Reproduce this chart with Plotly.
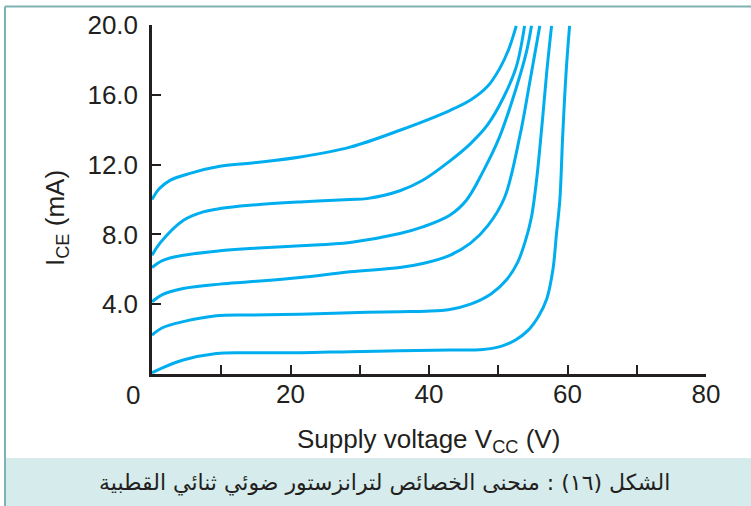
import plotly.graph_objects as go

# Supply voltage V_CC (V) and collector current I_CE (mA) for each curve
v1 = [0, 1, 2.6, 5.5, 9.8, 14.1, 21.4, 28.6, 35.8, 43, 46, 48.5, 50.2, 51.5, 52.6]
i1 = [10.0, 10.6, 11.1, 11.5, 11.9, 12.08, 12.44, 13.0, 13.97, 15.1, 15.7, 16.5, 17.5, 18.6, 19.95]

v2 = [0, 1.15, 4.5, 7.4, 9.8, 14.1, 21.4, 28.6, 31, 35.8, 39.1, 43, 46, 48.5, 50.7, 52.6, 53.8]
i2 = [6.8, 7.5, 8.8, 9.29, 9.48, 9.67, 9.86, 10.0, 10.05, 10.5, 11.1, 12.2, 13.2, 14.3, 15.8, 17.6, 19.95]

v3 = [0, 1.5, 4.5, 9.8, 14.1, 21.4, 28.6, 35.8, 39.1, 43, 45.4, 47.8, 50.2, 52.6, 54.1, 54.8]
i3 = [6.1, 6.5, 6.8, 7.06, 7.19, 7.35, 7.54, 8.05, 8.43, 9.1, 9.96, 11.6, 13.6, 16.4, 18.5, 19.95]

v4 = [0, 1.5, 4.5, 9.8, 14.1, 21.4, 28.6, 35.8, 39.1, 43, 46, 48.5, 50.9, 53.1, 54.5, 56]
i4 = [4.14, 4.55, 4.9, 5.15, 5.28, 5.53, 5.86, 6.1, 6.33, 6.8, 7.5, 8.5, 10.1, 13.6, 16.6, 19.95]

v5 = [0, 1.5, 4.5, 9.3, 14.1, 21.4, 28.6, 35.8, 39.6, 43, 46, 49, 51.2, 52.8, 53.9, 54.8, 55.5, 56.3, 57, 57.7]
i5 = [2.23, 2.65, 3.0, 3.34, 3.38, 3.43, 3.51, 3.57, 3.6, 3.7, 4.0, 4.6, 5.4, 6.4, 7.6, 9.0, 11.0, 14.2, 17.3, 19.95]

v6 = [0, 1.5, 4.5, 9.3, 14.1, 21.4, 28.6, 35.8, 43, 47.8, 50.5, 52.5, 54.3, 55.8, 57, 57.9, 58.4, 58.9, 59.3, 59.8, 60.3]
i6 = [0.07, 0.35, 0.8, 1.18, 1.22, 1.22, 1.28, 1.33, 1.37, 1.41, 1.6, 1.95, 2.5, 3.3, 4.3, 6.0, 8.0, 10.0, 13.6, 17.3, 19.95]

curves = [(v1, i1), (v2, i2), (v3, i3), (v4, i4), (v5, i5), (v6, i6)]

x_ticks = [0, 10, 20, 30, 40, 50, 60, 70, 80]
x_ticktext = ["", "", "20", "", "40", "", "60", "", "80"]
y_ticks = [4, 8, 12, 16, 20]
y_ticktext = ["4.0", "8.0", "12.0", "16.0", "20.0"]

x_title = "Supply voltage V<sub>CC</sub> (V)"
y_title = "I<sub>CE</sub> (mA)"
caption = "الشكل (١٦) : منحنى الخصائص لترانزستور ضوئي ثنائي القطبية"

LINE = "#00aeef"
AX = "#231f20"
FONT = "Liberation Sans, Arial, sans-serif"
FS = 26

fig = go.Figure()
for v, i in curves:
    fig.add_trace(go.Scatter(x=v, y=i, mode="lines",
                             line=dict(color=LINE, width=3, shape="spline", smoothing=1.0),
                             hoverinfo="skip", showlegend=False))

W, H = 751, 506
L, R, T, B = 152, 45, 25, 132
pw, ph = W - L - R, H - T - B

def px(xp):
    return (xp - L) / pw

def py(yp):
    return (H - B - yp) / ph

fig.update_layout(
    width=W, height=H,
    margin=dict(l=L, r=R, t=T, b=B, pad=0),
    paper_bgcolor="white", plot_bgcolor="white",
    font=dict(family=FONT, size=FS, color=AX),
    showlegend=False,
    xaxis=dict(range=[0, 80], tickvals=x_ticks, ticktext=x_ticktext,
               ticks="inside", ticklen=9, tickwidth=1.5, tickcolor=AX,
               showline=True, linecolor=AX, linewidth=2.5, showgrid=False,
               zeroline=False, ticklabelstandoff=-5, automargin=False,
               tickfont=dict(size=FS, family=FONT, color=AX)),
    yaxis=dict(range=[0, 20], tickvals=y_ticks, ticktext=y_ticktext,
               ticks="inside", ticklen=9, tickwidth=1.5, tickcolor=AX,
               showline=True, linecolor=AX, linewidth=2.5, showgrid=False,
               zeroline=False, ticklabelstandoff=6, automargin=False,
               tickfont=dict(size=FS, family=FONT, color=AX)),
)

shapes = [
    # caption band
    dict(type="rect", xref="paper", yref="paper",
         x0=px(5), x1=px(752), y0=py(458), y1=py(507),
         fillcolor="#d6ecec", line=dict(width=0), layer="below"),
    # frame: top and left
    dict(type="line", xref="paper", yref="paper",
         x0=px(5), x1=px(752), y0=py(6.5), y1=py(6.5),
         line=dict(color="#7fb2b2", width=2)),
    dict(type="line", xref="paper", yref="paper",
         x0=px(5), x1=px(5), y0=py(6.5), y1=py(507),
         line=dict(color="#7fb2b2", width=2)),
]
fig.update_layout(shapes=shapes)

annotations = [
    dict(text="0", xref="paper", yref="paper", x=px(133), y=py(395),
         xanchor="center", yanchor="middle", showarrow=False,
         font=dict(size=FS, family=FONT, color=AX)),
    dict(text=x_title, xref="paper", yref="paper", x=px(428), y=py(440),
         xanchor="center", yanchor="middle", showarrow=False,
         font=dict(size=FS, family=FONT, color=AX)),
    dict(text=y_title, xref="paper", yref="paper", x=px(56), y=py(218),
         xanchor="center", yanchor="middle", showarrow=False, textangle=-90,
         font=dict(size=FS, family=FONT, color=AX)),
    dict(text=caption, xref="paper", yref="paper", x=px(384), y=py(483),
         xanchor="center", yanchor="middle", showarrow=False,
         font=dict(size=22, family="DejaVu Sans, Noto Sans, sans-serif", color=AX)),
]
fig.update_layout(annotations=annotations)

fig.write_html("out.html")
